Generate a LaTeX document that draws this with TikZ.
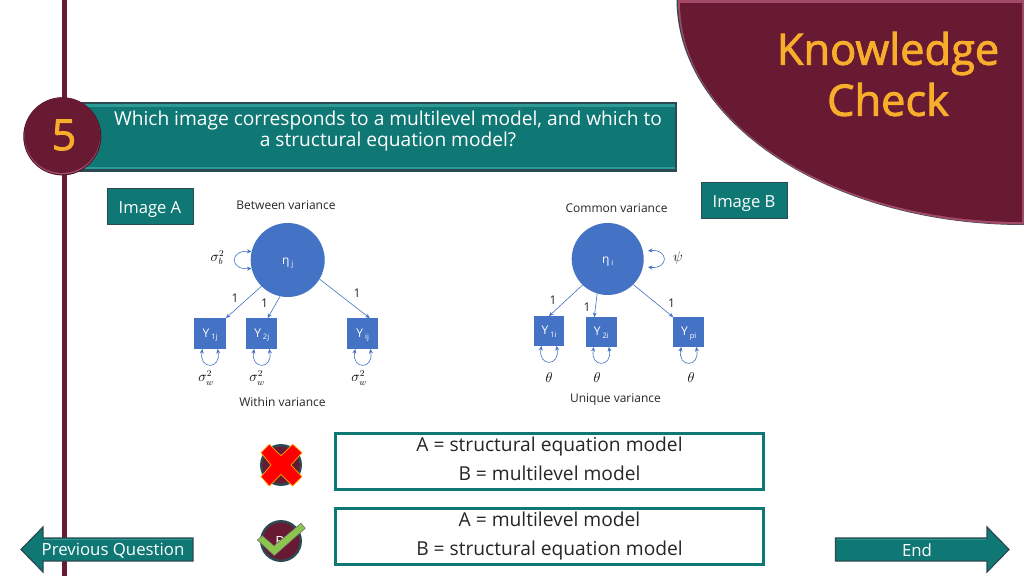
\documentclass[tikz,border=0pt]{standalone}
\usepackage{fontspec}
\setmainfont{Open Sans}
\newfontfamily\semifont[FakeBold=2]{Open Sans}
\usetikzlibrary{calc,arrows.meta}
\definecolor{maroon}{HTML}{681A33}
\definecolor{maroonlt}{HTML}{A34A68}
\definecolor{tealm}{HTML}{0F7874}
\definecolor{teallt}{HTML}{2E9A95}
\definecolor{tealdk}{HTML}{2C4A52}
\definecolor{gold}{HTML}{F9AE2B}
\definecolor{blueb}{HTML}{4472C4}
\definecolor{inkd}{HTML}{262626}
\definecolor{checkg}{HTML}{8DC34F}
\newcommand{\fs}[1]{\fontsize{#1}{#1}\selectfont}
\newcommand{\dropb}[2]{\raisebox{-#1pt}[0pt][0pt]{#2}}
\newcommand{\vsub}[3]{\dropb{#1}{#2\,\raisebox{-.45ex}{\fs{7.5}#3}}}
\newcommand{\vloop}[1]{\draw[selfarr] ($(#1.south)+(-7.5,0)$) .. controls +(-4,21) and +(4,21) .. ($(#1.south)+(7.5,0)$);}
\tikzset{
  tagbox/.style={fill=tealm,draw=tealdk,line width=.9pt,minimum width=86pt,minimum height=36pt,inner sep=0pt,text=white,font=\fs{16.6}},
  latent/.style={circle,fill=blueb,inner sep=0pt,text=white,font=\fs{12}},
  obs/.style={rectangle,fill=blueb,inner sep=0pt,minimum width=31.5pt,minimum height=30.5pt,text=white,font=\fs{12}},
  loada/.style={draw=blueb,line width=.6pt,-{Stealth[length=4.5pt,width=4pt]}},
  selfarr/.style={draw=blueb,line width=.6pt,{Stealth[length=4.5pt,width=4pt]}-{Stealth[length=4.5pt,width=4pt]}},
  captext/.style={inner sep=0pt,text=inkd,font=\fs{12}},
  num/.style={inner sep=0pt,text=inkd,font=\fs{12}},
  mathlab/.style={inner sep=0pt,text=black,font=\fs{13.5}},
  answer/.style={rectangle,draw=tealm,line width=2.4pt,fill=white,minimum width=428pt,minimum height=56pt,inner sep=0pt},
  anstext/.style={inner sep=0pt,align=center,text=inkd,font=\fs{19.2}},
  navtext/.style={inner sep=0pt,text=white,font=\fs{16.8}},
  navarrow/.style={fill=tealm,draw=tealdk,line width=1.2pt,line join=miter},
  knob/.style={circle,fill=maroon,draw=tealdk,line width=2.4pt,minimum size=39.5pt,inner sep=0pt},
}
\begin{document}
\begin{tikzpicture}[x=1pt,y=-1pt]
\useasboundingbox (0,0) rectangle (1024,576);
\fill[white] (0,0) rectangle (1024,576);
% vertical rule
\fill[maroon] (61.5,0) rectangle (66.5,576);
% corner shape
\fill[tealdk] (676.5,-1) arc[start angle=180,end angle=90,x radius=347.5,y radius=226] -- (1024.5,-1) -- cycle;
\fill[maroonlt] (678,0) arc[start angle=180,end angle=90,x radius=346,y radius=224.5] -- (1024,0) -- cycle;
\fill[maroon] (680,3) arc[start angle=180,end angle=90,x radius=342,y radius=219] -- (1022,3) -- cycle;
\node[inner sep=0pt,text=gold,font=\semifont\fs{43.4},align=center] (kc) at (888,74) {Knowledge\\[7.6pt]Check};
% banner
\fill[tealdk] (76,101.5) rectangle (677,171.5);
\fill[teallt] (76,104) rectangle (675,168.5);
\fill[tealm] (76,107) rectangle (674.5,167);
\node[inner sep=0pt,text=white,font=\fs{19.15},align=center] (qt) at (388,131.5) {Which image corresponds to a multilevel model, and which to\\[1.85pt]a structural equation model?};
% number disc
\fill[maroon!70!black] (62.3,136.4) circle[radius=39];
\fill[maroonlt] (62.3,136.4) circle[radius=38];
\fill[maroon] (62.3,135.1) circle[radius=37.8];
\node[inner sep=0pt,text=gold,font=\semifont\fs{43}] (num5) at (64,135) {5};
% tags
\node[tagbox] (imgA) at (150,206) {\dropb{7.2}{Image A}};
\node[tagbox] (imgB) at (744,200.5) {\dropb{6.8}{Image B}};
% Image A
\node[captext] (capBetween) at (286,205.5) {Between variance};
\node[latent,minimum size=74pt] (etaA) at (287.7,260) {\vsub{4}{η}{j}};
\node[obs] (a1) at (210,333.5) {\vsub{3.5}{Y}{1j}};
\node[obs] (a2) at (261.7,333.5) {\vsub{3.5}{Y}{2j}};
\node[obs] (a3) at (362.7,333.5) {\vsub{3.5}{Y}{ij}};
\draw[loada] (etaA.225) -- (a1.north east);
\draw[loada] (etaA.258) -- ($(a2.north)+(6,0)$);
\draw[loada] (etaA.329) -- ($(a3.north)+(7,0)$);
\draw[selfarr] (etaA.167) .. controls +(-22,-2) and +(-22,2) .. (etaA.193);
\vloop{a1}\vloop{a2}\vloop{a3}
\node[mathlab] (sb) at (217.5,257.5) {$\sigma_b^2$};
\node[mathlab] (sw1) at (206,378) {$\sigma_w^2$};
\node[mathlab] (sw2) at (257,378) {$\sigma_w^2$};
\node[mathlab] (sw3) at (359,378) {$\sigma_w^2$};
\node[num] (la1) at (235,298) {1};
\node[num] (la2) at (264.5,303.5) {1};
\node[num] (la3) at (357,293.5) {1};
\node[captext] (capWithin) at (282.5,401.5) {Within variance};
% Image B
\node[captext] (capCommon) at (616.5,208) {Common variance};
\node[latent,minimum size=72pt] (etaB) at (607.7,259) {\vsub{4}{η}{i}};
\node[obs,minimum width=30.5pt,minimum height=29.5pt] (b1) at (549,331) {\vsub{3.5}{Y}{1i}};
\node[obs,minimum width=30.5pt,minimum height=29.5pt] (b2) at (601.3,332) {\vsub{3.5}{Y}{2i}};
\node[obs,minimum width=30.5pt,minimum height=29.5pt] (b3) at (688.7,332) {\vsub{3.5}{Y}{pi}};
\draw[loada] (etaB.226) -- (b1.north);
\draw[loada] (etaB.253) -- ($(b2.north)+(-7,0)$);
\draw[loada] (etaB.315) -- (b3.north west);
\draw[selfarr] ($(etaB.13)+(5,0)$) .. controls +(21,-2) and +(21,2) .. ($(etaB.347)+(5,0)$);
\vloop{b1}\vloop{b2}\vloop{b3}
\node[mathlab] (psi) at (678,258) {$\psi$};
\node[mathlab] (t1) at (549,377) {$\theta$};
\node[mathlab] (t2) at (597,377) {$\theta$};
\node[mathlab] (t3) at (691,377) {$\theta$};
\node[num] (lb1) at (553,300) {1};
\node[num] (lb2) at (587,307.5) {1};
\node[num] (lb3) at (671.5,303) {1};
\node[captext] (capUnique) at (615.5,399.5) {Unique variance};
% answers
\node[answer] (ans1) at (549.5,461.5) {};
\node[answer] (ans2) at (549.5,536.5) {};
\node[anstext] (ans1t) at (549.5,458.5) {A = structural equation model\\[9.8pt]B = multilevel model};
\node[anstext] (ans2t) at (549.5,536.5) {A = multilevel model\\[9.8pt]B = structural equation model};
% knobs
\node[knob] (knobX) at (281,465) {};
\node[knob] (knobOK) at (281,541) {};
\node[inner sep=0pt,text=white,font=\fs{14}] (knobB) at (280,541) {B};
\fill[red,draw=orange!70!yellow,line width=.7pt,line join=round]
  ($(knobX)+(-20,-12.3)$) -- ($(knobX)+(-11.7,-20.7)$) -- ($(knobX)+(0,-9.3)$) -- ($(knobX)+(11.7,-20.7)$) -- ($(knobX)+(21,-12.3)$) -- ($(knobX)+(10,0)$) -- ($(knobX)+(21,11.7)$) -- ($(knobX)+(11.7,21)$) -- ($(knobX)+(0,9.3)$) -- ($(knobX)+(-11.7,21)$) -- ($(knobX)+(-20,11.7)$) -- ($(knobX)+(-10,0)$) -- cycle;
\fill[checkg,draw=inkd!70,line width=.5pt,line join=round]
  (257.3,540) -- (262.3,535.7) -- (274,545.7) -- (301,523.3) -- (305.3,528.3) -- (274.3,555.7) -- cycle;
% nav arrows
\path[navarrow] (21,549.5) -- (43,527) -- (43,538) -- (193,538) -- (193,561) -- (43,561) -- (43,572) -- cycle;
\draw[teallt,line width=1pt] (43.8,539.6) -- (192,539.6);
\node[navtext] (prev) at (113,551) {Previous Question};
\path[navarrow] (1009,549.5) -- (987,527) -- (987,538) -- (835.5,538) -- (835.5,561) -- (987,561) -- (987,572) -- cycle;
\draw[teallt,line width=1pt] (836.5,539.6) -- (986.2,539.6);
\node[navtext] (endl) at (917,550.5) {End};
\end{tikzpicture}
\end{document}
